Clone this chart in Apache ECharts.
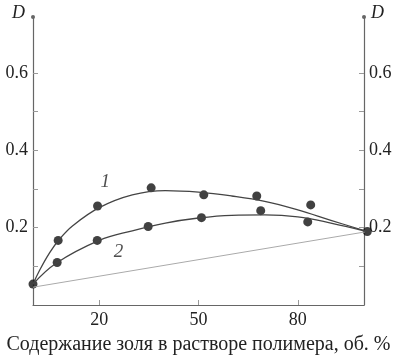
<!DOCTYPE html>
<html><head><meta charset="utf-8">
<script src="https://cdn.jsdelivr.net/npm/echarts@6/dist/echarts.min.js"></script>
<style>html,body{margin:0;padding:0;background:#fff}#c{width:405px;height:360px}</style>
</head><body><div id="c"></div>
<script>
// Measured points (curve 1 and curve 2)
const pts1X = [0, 7.6, 19.5, 35.7, 51.6, 67.6, 83.9, 101];
const pts1Y = [0.054, 0.167, 0.256, 0.303, 0.285, 0.282, 0.259, 0.19];
const pts2X = [7.3, 19.4, 34.8, 50.9, 68.8, 83];
const pts2Y = [0.110, 0.167, 0.203, 0.226, 0.244, 0.215];
// Fitted curves
const fit1X = [0, 2, 5, 8, 12, 20, 30, 40, 50, 60, 70, 80, 90, 101];
const fit1Y = [0.054, 0.09, 0.135, 0.17, 0.205, 0.252, 0.285, 0.296, 0.292, 0.282, 0.268, 0.246, 0.219, 0.19];
const fit2X = [0, 7, 20, 30, 40, 50, 60, 70, 80, 90, 101];
const fit2Y = [0.054, 0.108, 0.167, 0.192, 0.212, 0.225, 0.232, 0.233, 0.228, 0.212, 0.19];
// Straight reference line
const lineX = [0, 101];
const lineY = [0.046, 0.19];
// Axis ticks / labels
const xTicks = [20, 50, 80];
const yTicks = [0.1, 0.2, 0.3, 0.4, 0.5, 0.6];
const yLabels = [0.2, 0.4, 0.6];
const curveNames = ['1', '2'];
const curveNameX = [21.8, 25.8];
const curveNameY = [0.318, 0.138];
const xName = 'Содержание золя в растворе полимера, об. %';

const zip = (a, b) => a.map((v, i) => [v, b[i]]);
const font = '"Liberation Serif", "DejaVu Serif", serif';
const axisColor = '#666';

function yAxisDef(pos) {
  const left = pos === 'left';
  return {
    type: 'value', position: pos, min: 0, max: 0.745,
    name: 'D', nameLocation: 'end', nameGap: 4,
    nameTextStyle: {fontFamily: font, fontStyle: 'italic', fontSize: 18, color: '#222',
      align: left ? 'right' : 'left', verticalAlign: 'middle',
      padding: left ? [0, 8, 0, 0] : [0, 0, 0, 7]},
    axisLine: {show: true, lineStyle: {color: axisColor, width: 1.2}, symbol: ['none', 'circle'], symbolSize: [4, 4]},
    axisTick: {show: true, inside: true, length: 5, customValues: yTicks, lineStyle: {color: '#999'}},
    axisLabel: {customValues: yLabels, fontFamily: font, fontSize: 18, color: '#222', margin: 5,
      formatter: v => v.toFixed(1)},
    splitLine: {show: false}
  };
}

const chart = echarts.init(document.getElementById('c'));
chart.setOption({
  animation: false,
  grid: {left: 33, right: 41, top: 17, bottom: 53},
  xAxis: {
    type: 'value', min: 0, max: 100,
    name: xName, nameLocation: 'middle', nameGap: 30,
    nameTextStyle: {fontFamily: font, fontSize: 20, color: '#222'},
    axisLine: {lineStyle: {color: axisColor, width: 1.2}},
    axisTick: {inside: true, length: 5, customValues: xTicks, lineStyle: {color: '#999'}},
    axisLabel: {customValues: xTicks, fontFamily: font, fontSize: 18, color: '#222', margin: 6},
    splitLine: {show: false}
  },
  yAxis: [yAxisDef('left'), yAxisDef('right')],
  series: [
    {type: 'line', data: zip(lineX, lineY), symbol: 'none', clip: false,
      lineStyle: {color: '#aaa', width: 1}},
    {type: 'line', data: zip(fit1X, fit1Y), smooth: 0.4, symbol: 'none', clip: false,
      lineStyle: {color: '#444', width: 1.3}},
    {type: 'line', data: zip(fit2X, fit2Y), smooth: 0.4, symbol: 'none', clip: false,
      lineStyle: {color: '#444', width: 1.3}},
    {type: 'scatter', data: zip(pts1X, pts1Y), symbolSize: 9, clip: false, itemStyle: {color: '#111'}},
    {type: 'scatter', data: zip(pts2X, pts2Y), symbolSize: 9, clip: false, itemStyle: {color: '#111'}},
    {type: 'scatter', symbolSize: 1, itemStyle: {color: 'rgba(0,0,0,0)'}, silent: true,
      data: curveNames.map((n, i) => ({name: n, value: [curveNameX[i], curveNameY[i]]})),
      label: {show: true, position: 'inside', formatter: p => p.name, fontFamily: font,
        fontStyle: 'italic', fontSize: 19, color: '#222'}}
  ]
});
</script></body></html>
